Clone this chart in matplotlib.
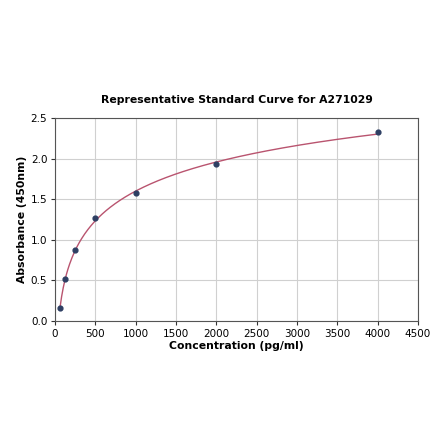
import matplotlib
matplotlib.use("Agg")
import matplotlib.pyplot as plt
import numpy as np

Concentration = [62.5, 125, 250, 500, 1000, 2000, 4000]
Absorbance = [0.157, 0.518, 0.88, 1.263, 1.571, 1.93, 2.327]

XTicks = [0, 500, 1000, 1500, 2000, 2500, 3000, 3500, 4000, 4500]
YTicks = [0.0, 0.5, 1.0, 1.5, 2.0, 2.5]


def FourPL(x, a, b, c, d):
    return d + (a - d) / (1 + (x / c) ** b)


def FitFourPL(x, y):
    # crude grid search on b and c, a and d solved by least squares
    x = np.array(x, dtype=float)
    y = np.array(y, dtype=float)
    Best = None
    for b in np.linspace(0.3, 2.0, 171):
        for c in np.logspace(1.5, 4.5, 301):
            g = 1 / (1 + (x / c) ** b)
            A = np.column_stack([g, 1 - g])
            coef, res, rk, sv = np.linalg.lstsq(A, y, rcond=None)
            err = np.sum((A @ coef - y) ** 2)
            if Best is None or err < Best[0]:
                Best = (err, coef[0], b, c, coef[1])
    return Best[1:]


a, b, c, d = FitFourPL(Concentration, Absorbance)
CurveX = np.linspace(min(Concentration), max(Concentration), 400)
CurveY = FourPL(CurveX, a, b, c, d)

fig = plt.figure(figsize=(4.4, 4.41), dpi=100)
ax = fig.add_axes([0.125, 0.272, 0.825, 0.4604])
ax.plot(CurveX, CurveY, color="#b9546f", linewidth=1.0, zorder=2)
ax.scatter(Concentration, Absorbance, color="#2e3f63", s=12, zorder=3)
ax.set_xlim(0, 4500)
ax.set_ylim(0, 2.5)
ax.set_xticks(XTicks)
ax.set_yticks(YTicks)
ax.grid(True, color="#d0d0d0", linewidth=0.8)
ax.set_axisbelow(True)
ax.tick_params(labelsize=7.5, length=3, pad=2.5, color="#333333")
for s in ax.spines.values():
    s.set_color("#555555")
ax.set_title("Representative Standard Curve for A271029", fontsize=7.8,
             fontweight="bold", pad=11)
ax.set_xlabel("Concentration (pg/ml)", fontsize=7.8, fontweight="bold", labelpad=2)
ax.set_ylabel("Absorbance (450nm)", fontsize=7.8, fontweight="bold", labelpad=2.5)
fig.savefig("out.png", dpi=100)
